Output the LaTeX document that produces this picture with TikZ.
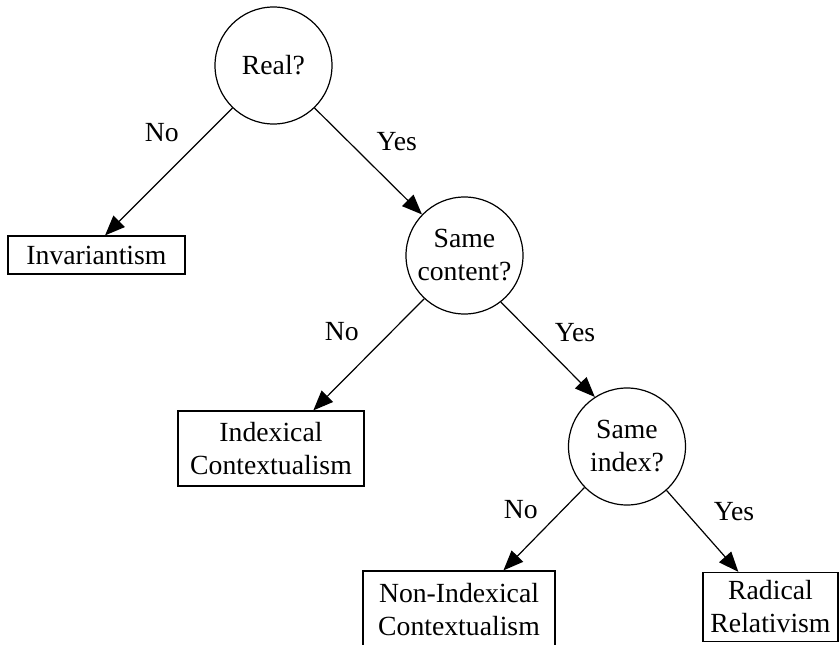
\documentclass[tikz,border=0pt]{standalone}
\usepackage{fontspec}
\setmainfont{Liberation Serif}
\usetikzlibrary{arrows.meta,calc}
\begin{document}
\begin{tikzpicture}[x=1pt,y=-1pt,
  every node/.style={font=\fontsize{27.7}{33}\selectfont},
  question/.style={draw,circle,line width=1.2pt,minimum size=117pt,inner sep=0pt,align=center},
  answer/.style={draw,rectangle,line width=1.2pt,inner sep=0pt,align=center},
  arr/.style={line width=1.2pt,-{Triangle[length=20pt,width=16pt]}},
  lbl/.style={inner sep=0pt}]
\useasboundingbox (0,0) rectangle (839,645);
\node[question] (real) at (273.5,65.5) {Real?};
\node[answer,minimum width=177pt,minimum height=38pt] (inv) at (96.5,255) {Invariantism};
\node[question] (content) at (464.5,255.5) {Same\\content?};
\node[answer,minimum width=186pt,minimum height=75pt] (indx) at (271,448.5) {Indexical\\Contextualism};
\node[question] (index) at (627,446.5) {Same\\index?};
\node[answer,minimum width=192pt,minimum height=78pt] (nonidx) at (459,610) {Non-Indexical\\Contextualism};
\node[answer,minimum width=135pt,minimum height=69pt] (radical) at (770.5,607) {Radical\\Relativism};

\draw[arr] (real.226.3) -- ($(inv.north west)!0.548!(inv.north east)$);
\draw[arr] (real.-46.4) -- (content.136.9);
\draw[arr] (content.227.8) -- ($(indx.north west)!0.726!(indx.north east)$);
\draw[arr] (content.-52.1) -- (index.123.4);
\draw[arr] (index.224.4) -- ($(nonidx.north west)!0.73!(nonidx.north east)$);
\draw[arr] (index.-48.7) -- ($(radical.north west)!0.264!(radical.north east)$);

\node[lbl] (l1) at (161.7,132.7) {No};
\node[lbl] (l2) at (396.7,141.7) {Yes};
\node[lbl] (l3) at (341.7,331.7) {No};
\node[lbl] (l4) at (575,333) {Yes};
\node[lbl] (l5) at (520.7,510) {No};
\node[lbl] (l6) at (734,511.7) {Yes};
\end{tikzpicture}
\end{document}
